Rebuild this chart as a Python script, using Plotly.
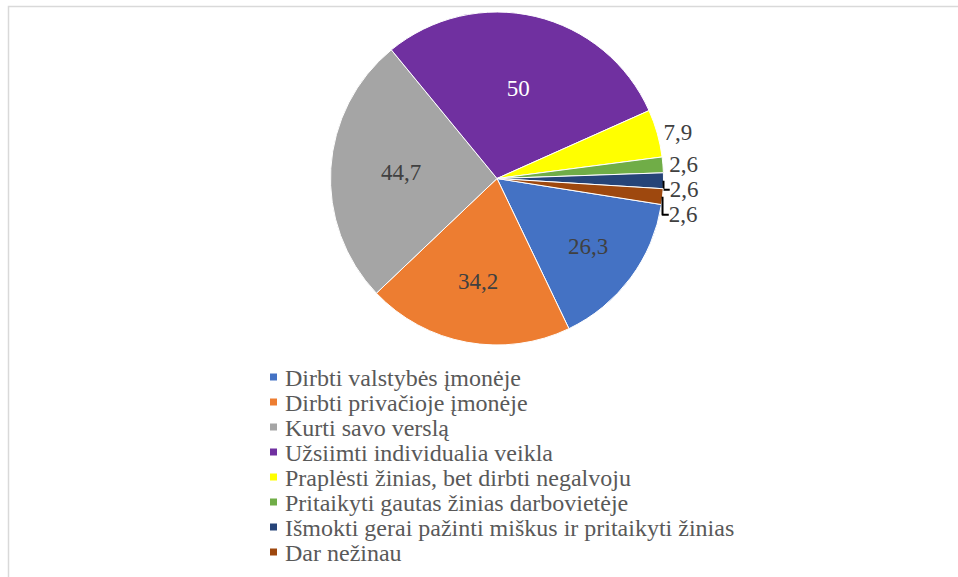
import plotly.graph_objects as go

categories = [
    "Dirbti valstybės įmonėje",
    "Dirbti privačioje įmonėje",
    "Kurti savo verslą",
    "Užsiimti individualia veikla",
    "Praplėsti žinias, bet dirbti negalvoju",
    "Pritaikyti gautas žinias darbovietėje",
    "Išmokti gerai pažinti miškus ir pritaikyti žinias",
    "Dar nežinau",
]
values = [26.3, 34.2, 44.7, 50, 7.9, 2.6, 2.6, 2.6]
colors = ["#4472C4", "#ED7D31", "#A5A5A5", "#7030A0", "#FFFF00", "#70AD47", "#264478", "#9E480E"]
text_positions = ["inside"] * 4 + ["outside"] * 4
text_colors = ["#404040", "#404040", "#404040", "#FFFFFF", "#404040", "#404040", "#404040", "#404040"]

FONT = "Liberation Serif, Times New Roman, serif"
W, H = 958, 577

fig = go.Figure(go.Pie(
    labels=categories,
    values=values,
    sort=False,
    direction="clockwise",
    rotation=99,
    marker=dict(colors=colors, line=dict(color="#FFFFFF", width=1)),
    textinfo="value",
    textposition=text_positions,
    insidetextorientation="horizontal",
    textfont=dict(family=FONT, size=23, color=text_colors),
    domain=dict(x=[0.3188, 0.7188], y=[1 - 345 / H, 1 - 12 / H]),
    hoverinfo="label+value",
    showlegend=False,
))

# Legend drawn as text entries with colour keys (below the pie)
legend_left_px, legend_top_px, legend_step_px = 283, 377, 25
annotations = []
shapes = [dict(
    type="rect", xref="paper", yref="paper",
    x0=8.5 / W, x1=1.05, y0=-0.05, y1=1 - 6.5 / H,
    line=dict(color="#D9D9D9", width=1.5),
)]
for i, (name, col) in enumerate(zip(categories, colors)):
    yc = legend_top_px + legend_step_px * i
    annotations.append(dict(
        xref="paper", yref="paper", x=legend_left_px / W, y=1 - (yc + 1) / H,
        xanchor="left", yanchor="middle", showarrow=False,
        text=name, font=dict(family=FONT, size=24, color="#595959"),
    ))
    shapes.append(dict(
        type="rect", xref="paper", yref="paper",
        x0=270 / W, x1=277 / W, y0=1 - (yc + 3.5) / H, y1=1 - (yc - 3.5) / H,
        fillcolor=col, line=dict(width=0),
    ))

fig.update_layout(
    width=W, height=H,
    margin=dict(l=0, r=0, t=0, b=0),
    paper_bgcolor="#FFFFFF",
    separators=", ",
    font=dict(family=FONT, color="#595959"),
    showlegend=False,
    annotations=annotations,
    shapes=shapes,
)

fig.write_html(
    "out.html",
    config={"displayModeBar": False},
    post_script="document.body.style.margin='0px';",
)
